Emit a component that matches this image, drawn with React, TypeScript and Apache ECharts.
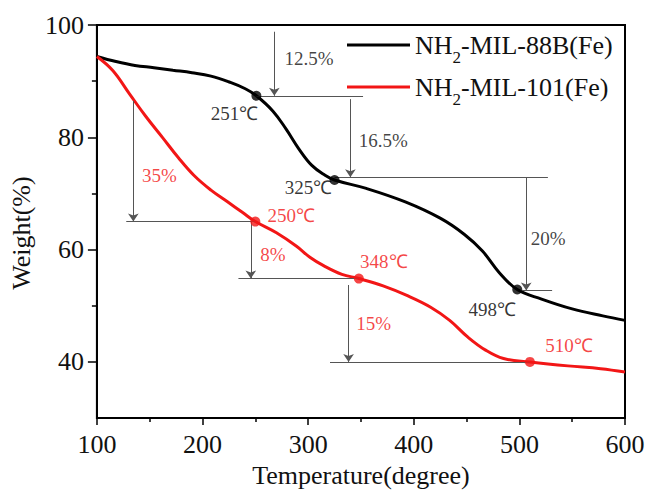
import React, { useEffect, useRef } from "react";
import * as echarts from "echarts";

// TGA curves: temperature (°C) vs. residual weight (%)
const tempsMIL88B = [100, 118, 136, 154, 172, 190, 208, 226, 240.5, 251, 266.5, 279, 291, 303.5, 316, 325, 355, 392, 425, 448, 465, 481, 498, 521, 550, 579, 600];
const weightMIL88B = [94.4, 93.5, 92.8, 92.4, 91.95, 91.5, 90.9, 89.8, 88.65, 87.4, 84.7, 81.5, 78.0, 75.0, 73.25, 72.4, 70.9, 68.5, 65.6, 62.7, 59.75, 55.9, 52.9, 51.2, 49.45, 48.2, 47.4];

const tempsMIL101 = [100, 115, 131, 146, 162, 177, 192, 208, 223, 238, 250, 270, 289, 302, 315, 332, 348, 371, 394, 416, 434, 451, 468, 485, 510, 546, 577, 600];
const weightMIL101 = [94.4, 91.9, 87.7, 83.8, 80.0, 76.4, 73.2, 70.6, 68.6, 66.6, 65.0, 63.0, 60.6, 58.6, 57.1, 55.6, 54.85, 53.55, 51.8, 49.75, 47.4, 44.45, 42.1, 40.6, 40.0, 39.3, 38.8, 38.2];

// Decomposition points
const peaksMIL88B = [251, 325, 498];
const peakWeightsMIL88B = [87.4, 72.4, 52.9];
const peaksMIL101 = [250, 348, 510];
const peakWeightsMIL101 = [65.0, 54.85, 40.0];

// Weight-loss steps: arrow [temperature, from weight, to weight], guide [t1, t2, weight]
const lossesMIL88B = ["12.5%", "16.5%", "20%"];
const arrowsMIL88B = [[268, 98.8, 87.4], [340, 86.8, 72.9], [506.5, 72.9, 52.7]];
const guidesMIL88B = [[251, 352, 87.4], [325, 527, 72.9], [501, 531, 52.7]];

const lossesMIL101 = ["35%", "8%", "15%"];
const arrowsMIL101 = [[134.5, 86.5, 65.0], [245.7, 65.0, 54.85], [338.3, 53.7, 40.0]];
const guidesMIL101 = [[127.8, 250, 65.0], [234, 348, 54.85], [320.7, 510, 40.0]];

// Axis ticks
const xMin = 100, xMax = 600, xStep = 100;
const yMin = 30, yMax = 100;
const yMajorTicks = [40, 60, 80, 100];
const yMinorTicks = [50, 70, 90];

const NAME_88B = "NH2-MIL-88B(Fe)";
const NAME_101 = "NH2-MIL-101(Fe)";

const FONT = '"Liberation Serif", "Times New Roman", serif';
const BLACK = "#000000";
const RED = "#f21616";
const GUIDE = "#555555";

// label placement (pixels, relative to the mark)
const peakLabelOffsetsMIL88B = [[-22, 17.5], [-26, 8], [-25, 20]];
const peakLabelOffsetsMIL101 = [[36, -6], [25, -17], [39, -16]];
const lossLabelOffsetsMIL88B = [[34.6, -5], [33, 2], [22, 4.5]];
const lossLabelOffsetsMIL101 = [[26, 14], [22, 4], [25, 0]];

function zip(xs: number[], ys: number[]) {
  return xs.map((x, i) => [x, ys[i]]);
}

function markLines(arrows: number[][], guides: number[][]) {
  const data: any[] = [];
  arrows.forEach(([t, from, to]) => {
    data.push([
      { coord: [t, from], symbol: "none" },
      { coord: [t, to], symbol: "arrow" },
    ]);
  });
  guides.forEach(([t1, t2, w]) => {
    data.push([
      { coord: [t1, w], symbol: "none" },
      { coord: [t2, w], symbol: "none" },
    ]);
  });
  return {
    silent: true,
    symbolSize: 8,
    label: { show: false },
    lineStyle: { color: GUIDE, width: 1, type: "solid" },
    emphasis: { disabled: true },
    data,
  };
}

function peakSeries(name: string, temps: number[], weights: number[], offsets: number[][], color: string) {
  return {
    name,
    type: "scatter",
    symbol: "circle",
    symbolSize: 10,
    z: 5,
    itemStyle: { color },
    silent: true,
    data: temps.map((t, i) => ({
      value: [t, weights[i]],
      label: { offset: offsets[i] },
    })),
    label: {
      show: true,
      position: "inside",
      formatter: (p: any) => `${p.value[0]}℃`,
      color,
      fontFamily: FONT,
      fontSize: 19,
    },
  };
}

function lossSeries(name: string, losses: string[], arrows: number[][], offsets: number[][], color: string) {
  return {
    name,
    type: "scatter",
    symbolSize: 0,
    silent: true,
    data: arrows.map(([t, from, to], i) => ({
      value: [t, (from + to) / 2],
      name: losses[i],
      label: { offset: offsets[i] },
    })),
    label: {
      show: true,
      position: "inside",
      formatter: (p: any) => p.name,
      color,
      fontFamily: FONT,
      fontSize: 19,
    },
  };
}

export default function App() {
  const ref = useRef<HTMLDivElement>(null);

  useEffect(() => {
    if (!ref.current) return;
    const chart = echarts.init(ref.current, undefined, { renderer: "svg" });

    const tickLabel = { fontFamily: FONT, fontSize: 26, color: "#111" };

    chart.setOption({
      animation: false,
      backgroundColor: "#ffffff",
      grid: {
        left: 85,
        right: 24,
        top: 25,
        bottom: 71,
        show: true,
        borderColor: BLACK,
        borderWidth: 2,
        backgroundColor: "transparent",
      },
      legend: {
        data: [NAME_88B, NAME_101],
        orient: "vertical",
        left: 347,
        top: 32,
        padding: 0,
        icon: "rect",
        itemWidth: 63,
        itemHeight: 3,
        itemGap: 8,
        selectedMode: false,
        formatter: (n: string) =>
          n === NAME_88B ? "{n|NH}{s|2}{n|-MIL-88B(Fe)}" : "{n|NH}{s|2}{n|-MIL-101(Fe)}",
        textStyle: {
          rich: {
            n: { fontFamily: FONT, fontSize: 26, lineHeight: 26, color: "#111" },
            s: { fontFamily: FONT, fontSize: 17, lineHeight: 42, verticalAlign: "bottom", color: "#111" },
          },
        },
      },
      xAxis: {
        type: "value",
        min: xMin,
        max: xMax,
        interval: xStep,
        name: "Temperature(degree)",
        nameLocation: "middle",
        nameGap: 40,
        nameTextStyle: { fontFamily: FONT, fontSize: 26, color: "#111" },
        axisLine: { show: true, onZero: false, lineStyle: { color: BLACK, width: 2 } },
        axisTick: { show: true, inside: false, length: 7, lineStyle: { color: BLACK, width: 1.5 } },
        minorTick: { show: true, splitNumber: 2, length: 4, lineStyle: { color: BLACK, width: 1.5 } },
        axisLabel: { ...tickLabel, margin: 13 },
        splitLine: { show: false },
      },
      yAxis: [
        {
          type: "value",
          min: yMin,
          max: yMax,
          name: "Weight(%)",
          nameLocation: "middle",
          nameGap: 48,
          nameRotate: 90,
          nameTextStyle: { fontFamily: FONT, fontSize: 26, color: "#111", padding: [0, 23, 0, 0] },
          axisLine: { show: true, onZero: false, lineStyle: { color: BLACK, width: 2 } },
          axisTick: { show: true, inside: false, length: 9, customValues: yMajorTicks, lineStyle: { color: BLACK, width: 1.5 } },
          axisLabel: { ...tickLabel, margin: 13, customValues: yMajorTicks },
          splitLine: { show: false },
        },
        {
          type: "value",
          min: yMin,
          max: yMax,
          position: "left",
          axisLine: { show: false },
          axisTick: { show: true, inside: false, length: 5, customValues: yMinorTicks, lineStyle: { color: BLACK, width: 1.5 } },
          axisLabel: { show: false },
          splitLine: { show: false },
        },
      ],
      series: [
        {
          name: NAME_88B,
          type: "line",
          data: zip(tempsMIL88B, weightMIL88B),
          showSymbol: false,
          symbol: "none",
          smooth: 0.4,
          lineStyle: { color: BLACK, width: 3 },
          itemStyle: { color: BLACK },
          silent: true,
          markLine: markLines(arrowsMIL88B, guidesMIL88B),
        },
        {
          name: NAME_101,
          type: "line",
          data: zip(tempsMIL101, weightMIL101),
          showSymbol: false,
          symbol: "none",
          smooth: 0.4,
          lineStyle: { color: RED, width: 3 },
          itemStyle: { color: RED },
          silent: true,
          markLine: markLines(arrowsMIL101, guidesMIL101),
        },
        peakSeries("peaks88B", peaksMIL88B, peakWeightsMIL88B, peakLabelOffsetsMIL88B, BLACK),
        peakSeries("peaks101", peaksMIL101, peakWeightsMIL101, peakLabelOffsetsMIL101, RED),
        lossSeries("losses88B", lossesMIL88B, arrowsMIL88B, lossLabelOffsetsMIL88B, "#111"),
        lossSeries("losses101", lossesMIL101, arrowsMIL101, lossLabelOffsetsMIL101, RED),
      ],
    });

    return () => chart.dispose();
  }, []);

  return <div ref={ref} style={{ width: 649, height: 493, position: "absolute", left: 0, top: 0 }} />;
}
